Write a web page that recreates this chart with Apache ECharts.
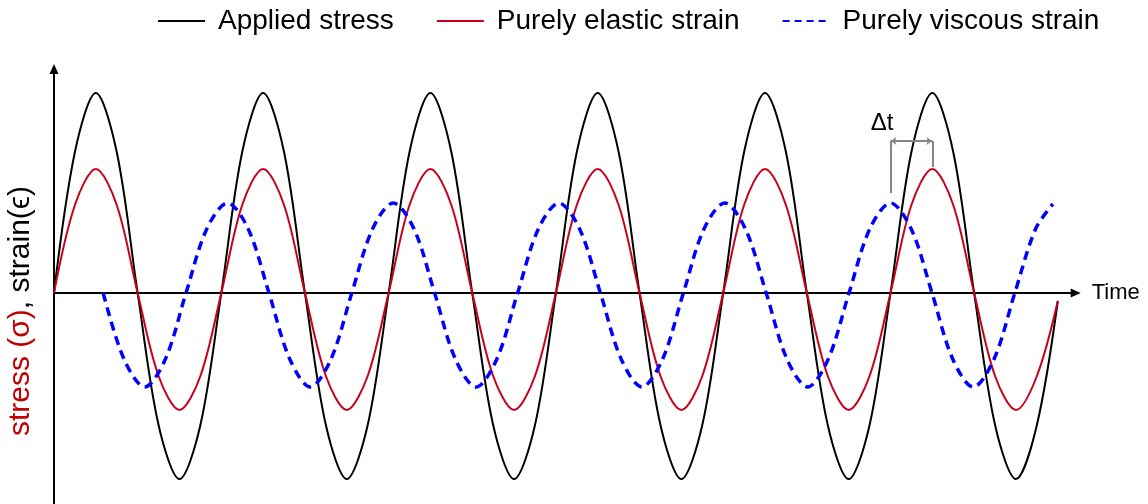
<!DOCTYPE html>
<html>
<head>
<meta charset="utf-8">
<script src="https://cdn.jsdelivr.net/npm/echarts@6/dist/echarts.min.js"></script>
<style>
  html, body { margin: 0; padding: 0; background: #fff; }
  #chart { width: 1148px; height: 504px; }
</style>
</head>
<body>
<div id="chart"></div>
<script>
// Stress / strain response of elastic and viscous materials to a sinusoidal load.
const FONT = "'Liberation Sans', Arial, sans-serif";

const seriesNames = ['Applied stress', 'Purely elastic strain', 'Purely viscous strain'];

// sample times (in load periods) for stress and elastic strain
const stressTime = [
  0, 0.125, 0.25, 0.375, 0.5, 0.625, 0.75, 0.875,
  1, 1.125, 1.25, 1.375, 1.5, 1.625, 1.75, 1.875,
  2, 2.125, 2.25, 2.375, 2.5, 2.625, 2.75, 2.875,
  3, 3.125, 3.25, 3.375, 3.5, 3.625, 3.75, 3.875,
  4, 4.125, 4.25, 4.375, 4.5, 4.625, 4.75, 4.875,
  5, 5.125, 5.25, 5.375, 5.5, 5.625, 5.75, 5.875,
  6
];

const appliedStress = [
  0, 1.41, 2.00, 1.41, 0, -1.32, -1.86, -1.32,
  0, 1.41, 2.00, 1.41, 0, -1.32, -1.86, -1.32,
  0, 1.41, 2.00, 1.41, 0, -1.32, -1.86, -1.32,
  0, 1.41, 2.00, 1.41, 0, -1.32, -1.86, -1.32,
  0, 1.41, 2.00, 1.41, 0, -1.32, -1.86, -1.32,
  0, 1.41, 2.00, 1.41, 0, -1.32, -1.86, -1.32,
  -0.08
];

const elasticStrain = [
  0, 0.88, 1.24, 0.88, 0, -0.83, -1.17, -0.83,
  0, 0.88, 1.24, 0.88, 0, -0.83, -1.17, -0.83,
  0, 0.88, 1.24, 0.88, 0, -0.83, -1.17, -0.83,
  0, 0.88, 1.24, 0.88, 0, -0.83, -1.17, -0.83,
  0, 0.88, 1.24, 0.88, 0, -0.83, -1.17, -0.83,
  0, 0.88, 1.24, 0.88, 0, -0.83, -1.17, -0.83,
  -0.08
];

// sample times for the viscous strain
const viscousTime = [
  0.294, 0.418, 0.542, 0.666, 0.789, 0.913, 1.037, 1.161,
  1.285, 1.409, 1.532, 1.656, 1.780, 1.904, 2.028, 2.152,
  2.275, 2.399, 2.523, 2.647, 2.771, 2.895, 3.018, 3.142,
  3.266, 3.390, 3.514, 3.638, 3.762, 3.885, 4.009, 4.133,
  4.257, 4.381, 4.505, 4.628, 4.752, 4.876, 5.000, 5.124,
  5.248, 5.372, 5.495, 5.619, 5.743, 5.867, 5.971
];

const viscousStrain = [
  0, -0.66, -0.94, -0.66, 0, 0.64, 0.90, 0.64,
  0, -0.66, -0.94, -0.66, 0, 0.64, 0.90, 0.64,
  0, -0.66, -0.94, -0.66, 0, 0.64, 0.90, 0.64,
  0, -0.66, -0.94, -0.66, 0, 0.64, 0.90, 0.64,
  0, -0.66, -0.94, -0.66, 0, 0.64, 0.90, 0.64,
  0, -0.66, -0.94, -0.66, 0, 0.64, 0.89
];

// Δt: from a viscous strain peak to the matching elastic strain peak
const deltaTimes = [5.0, 5.25];
const deltaPeaks = [0.90, 1.24];

const pairs = (xs, ys) => xs.map((x, i) => [x, ys[i]]);

const bracketTop = 1.52;
const gray = '#858585';

const chart = echarts.init(document.getElementById('chart'), null, { renderer: 'canvas' });

chart.setOption({
  animation: false,
  backgroundColor: '#ffffff',
  textStyle: { fontFamily: FONT },
  legend: {
    left: 152,
    top: 2,
    itemWidth: 47,
    itemHeight: 14,
    itemGap: 42,
    selectedMode: false,
    itemStyle: { opacity: 0 },
    textStyle: { fontSize: 28, color: '#000', fontFamily: FONT, padding: [0, 0, 0, 8] },
    data: [
      { name: seriesNames[0], lineStyle: { width: 2 } },
      { name: seriesNames[1], lineStyle: { width: 2 } },
      { name: seriesNames[2], lineStyle: { width: 2, type: [7, 5] } }
    ]
  },
  grid: { left: 54, right: 72.3, top: 69, bottom: 0 },
  xAxis: {
    type: 'value',
    min: 0,
    max: 6.107,
    name: 'Time',
    nameLocation: 'end',
    nameGap: 16,
    nameTextStyle: { fontSize: 22, color: '#000', fontFamily: FONT, padding: [4, 0, 0, 0] },
    axisLine: {
      show: true,
      onZero: true,
      symbol: ['none', 'triangle'],
      symbolSize: [9, 10],
      lineStyle: { color: '#000', width: 2 }
    },
    axisTick: { show: false },
    axisLabel: { show: false },
    splitLine: { show: false }
  },
  yAxis: {
    type: 'value',
    min: -2.11,
    max: 2.24,
    axisLine: {
      show: true,
      symbol: ['none', 'triangle'],
      symbolSize: [9, 10],
      lineStyle: { color: '#000', width: 2 }
    },
    axisTick: { show: false },
    axisLabel: { show: false },
    splitLine: { show: false }
  },
  graphic: [{
    type: 'text',
    x: 21,
    y: 311,
    rotation: Math.PI / 2,
    style: {
      text: '{r|stress (σ)}{k|, strain(ϵ)}',
      align: 'center',
      verticalAlign: 'middle',
      rich: {
        r: { fill: '#c00000', fontSize: 30, fontFamily: FONT },
        k: { fill: '#000000', fontSize: 30, fontFamily: FONT }
      }
    }
  }],
  series: [
    {
      name: seriesNames[0],
      type: 'line',
      data: pairs(stressTime, appliedStress),
      smooth: 0.33,
      symbol: 'none',
      lineStyle: { color: '#000000', width: 2 },
      itemStyle: { color: '#000000' },
      z: 2
    },
    {
      name: seriesNames[1],
      type: 'line',
      data: pairs(stressTime, elasticStrain),
      smooth: 0.33,
      symbol: 'none',
      lineStyle: { color: '#c8001e', width: 2 },
      itemStyle: { color: '#c8001e' },
      z: 3,
      markLine: {
        silent: true,
        symbol: ['none', 'none'],
        label: { show: false },
        lineStyle: { color: gray, width: 2, type: 'solid' },
        data: [
          [{ coord: [deltaTimes[0], deltaPeaks[0] + 0.10] }, { coord: [deltaTimes[0], bracketTop] }],
          [{ coord: [deltaTimes[1], deltaPeaks[1] + 0.02] }, { coord: [deltaTimes[1], bracketTop] }],
          [
            { coord: [deltaTimes[0], bracketTop], symbol: 'arrow', symbolSize: 6 },
            { coord: [deltaTimes[1], bracketTop], symbol: 'arrow', symbolSize: 6 }
          ]
        ]
      },
      markPoint: {
        silent: true,
        symbol: 'circle',
        symbolSize: 0,
        label: { show: true, position: 'inside', formatter: 'Δt', color: '#000', fontSize: 24, fontFamily: FONT },
        data: [{ coord: [deltaTimes[0] - 0.05, bracketTop + 0.18] }]
      }
    },
    {
      name: seriesNames[2],
      type: 'line',
      data: pairs(viscousTime, viscousStrain),
      smooth: 0.33,
      symbol: 'none',
      lineStyle: { color: '#0000ff', width: 3.5, type: [9, 6] },
      itemStyle: { color: '#0000ff' },
      z: 4
    }
  ]
});
</script>
</body>
</html>
